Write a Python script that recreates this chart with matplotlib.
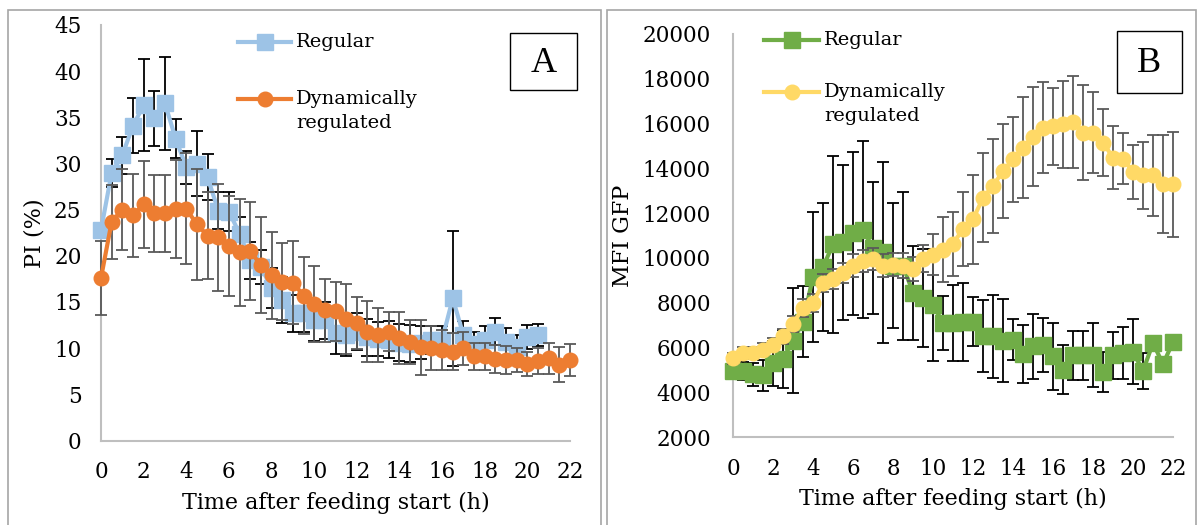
import matplotlib.pyplot as plt
from matplotlib.lines import Line2D
from matplotlib.patches import Rectangle

plt.rcParams['font.family'] = 'DejaVu Serif'

# time points (h)
hours = [0, 0.5, 1, 1.5, 2, 2.5, 3, 3.5, 4, 4.5, 5, 5.5, 6, 6.5, 7, 7.5,
         8, 8.5, 9, 9.5, 10, 10.5, 11, 11.5, 12, 12.5, 13, 13.5, 14, 14.5,
         15, 15.5, 16, 16.5, 17, 17.5, 18, 18.5, 19, 19.5, 20, 20.5, 21,
         21.5, 22]
hours_a_reg = hours[:42]

# Panel A - PI (%)
pi_regular = [22.8, 29.0, 30.9, 34.1, 36.3, 34.9, 36.5, 32.7, 29.6, 30.0,
              28.5, 24.9, 24.8, 22.4, 19.5, 18.8, 16.5, 15.2, 13.8, 13.8,
              13.0, 13.0, 11.6, 11.4, 11.8, 11.2, 11.0, 10.9, 10.6, 10.5,
              10.6, 10.9, 10.9, 15.4, 11.4, 10.5, 10.9, 11.8, 10.7, 10.1,
              11.2, 11.4]
pi_regular_err = [0.5, 1.5, 2.0, 3.0, 5.0, 3.0, 5.0, 2.1, 1.8, 3.5,
                  2.5, 2.0, 2.1, 1.8, 2.0, 1.8, 2.2, 2.5, 2.0, 2.0,
                  2.2, 2.0, 2.2, 2.3, 2.0, 2.0, 1.8, 2.0, 2.0, 2.0,
                  1.8, 1.5, 1.5, 7.3, 1.5, 1.2, 1.5, 1.5, 1.5, 1.3,
                  1.3, 1.2]
pi_dynamic = [17.6, 23.7, 25.0, 24.4, 25.6, 24.6, 24.6, 25.1, 25.1, 23.4,
              22.2, 22.0, 21.1, 20.4, 20.5, 19.0, 17.9, 17.2, 17.1, 15.7,
              14.8, 14.1, 14.0, 13.2, 12.7, 11.8, 11.4, 11.8, 11.1, 10.7,
              10.1, 10.0, 9.8, 9.6, 10.0, 9.1, 9.1, 8.8, 8.7, 8.7,
              8.3, 8.6, 8.9, 8.2, 8.7]
pi_dynamic_err = [4.0, 4.0, 4.4, 4.5, 4.7, 4.2, 4.2, 5.3, 6.0, 6.0,
                  4.7, 5.8, 5.4, 5.8, 5.3, 5.2, 4.7, 4.2, 4.5, 4.2,
                  4.1, 3.4, 3.2, 3.8, 2.8, 3.3, 2.9, 2.1, 2.8, 2.4,
                  3.0, 2.4, 2.2, 2.0, 1.8, 1.5, 1.5, 1.5, 1.5, 1.3,
                  1.3, 1.4, 1.7, 1.9, 1.7]

# Panel B - MFI GFP
mfi_regular = [4950, 4950, 4800, 4750, 5300, 5500, 6300, 7150, 9150, 9600,
               10600, 10700, 11100, 11250, 10450, 10250, 9650, 9650, 8450, 8200,
               7900, 7100, 7100, 7150, 7150, 6500, 6500, 6300, 6350, 5700,
               6050, 6100, 5600, 5000, 5650, 5650, 5650, 4900, 5650, 5750,
               5800, 4950, 6200, 5250, 6250]
mfi_regular_err = [200, 400, 500, 700, 1000, 1300, 2350, 1580, 2900, 2850,
                   3950, 3470, 3650, 3950, 2950, 4050, 2800, 3300, 2100, 2200,
                   2500, 1200, 1700, 1750, 1100, 1600, 1850, 1850, 900, 1300,
                   1450, 1200, 1500, 1100, 1100, 1100, 1430, 900, 1050, 1150,
                   1450, 820, 300, 300, 300]
mfi_dynamic = [5520, 5750, 5770, 5900, 6120, 6490, 7060, 7760, 7990, 8880,
               9060, 9330, 9660, 9850, 9960, 9660, 9700, 9660, 9510, 9960,
               10150, 10370, 10620, 11300, 11720, 12690, 13210, 13880, 14400, 14930,
               15420, 15820, 15870, 15970, 16080, 15600, 15600, 15150, 14480, 14430,
               13840, 13690, 13690, 13290, 13290]
mfi_dynamic_err = [250, 250, 250, 300, 300, 350, 350, 400, 400, 400,
                   450, 450, 500, 500, 500, 500, 500, 550, 550, 600,
                   900, 1450, 1450, 1650, 2000, 2000, 2100, 2100, 1900, 2250,
                   2200, 2050, 1700, 1950, 2050, 2100, 1800, 1500, 1400, 1150,
                   1200, 1500, 1800, 2200, 2350]

W, H = 1198, 525
fig = plt.figure(figsize=(W / 100, H / 100), dpi=100)


def fx(x):
    return x / W


def fy(y):
    return 1 - y / H


def style_axes(ax):
    for side in ['top', 'right']:
        ax.spines[side].set_visible(False)
    for side in ['left', 'bottom']:
        ax.spines[side].set_color('#BFBFBF')
        ax.spines[side].set_linewidth(1.5)
    ax.tick_params(length=0, labelsize=15.5)
    ax.set_xlim(0, 22)
    ax.set_xticks(range(0, 23, 2))


def draw_series(ax, x, y, err, color, marker, ms, ecolor, z):
    ax.errorbar(x, y, yerr=err, fmt='none', ecolor=ecolor, elinewidth=1.3,
                capsize=4.5, capthick=1.3, zorder=z, clip_on=False)
    ax.plot(x, y, color=color, lw=3, marker=marker, ms=ms, mec=color,
            mfc=color, zorder=z + 1, clip_on=False)


def legend_entry(x0, x1, y, color, marker, ms, text, ty):
    fig.add_artist(Line2D([fx(x0), fx(x1)], [fy(y), fy(y)], color=color, lw=3))
    fig.add_artist(Line2D([fx((x0 + x1) / 2)], [fy(y)], color=color,
                          marker=marker, ms=ms, mec=color, mfc=color))
    fig.text(fx(x1 + 5), fy(ty), text, fontsize=14, va='top', ha='left',
             linespacing=1.4)


def panel_box(x0, y0, x1, y1, color, lw):
    fig.add_artist(Rectangle((fx(x0), fy(y1)), fx(x1) - fx(x0), fy(y0) - fy(y1),
                             transform=fig.transFigure, fill=False,
                             edgecolor=color, lw=lw))


# outer panel frames
panel_box(8, 10, 601, 530, '#A6A6A6', 1.2)
panel_box(607, 10, 1196, 530, '#A6A6A6', 1.2)

# ---- Panel A ----
ax1 = fig.add_axes([fx(101), fy(440.5), fx(570) - fx(101), fy(25) - fy(440.5)])
style_axes(ax1)
ax1.set_ylim(0, 45)
ax1.set_yticks(range(0, 46, 5))
ax1.tick_params(axis='y', pad=14)
ax1.tick_params(axis='x', pad=15)
draw_series(ax1, hours_a_reg, pi_regular, pi_regular_err, '#9DC3E6', 's', 11, '#000000', 2)
draw_series(ax1, hours, pi_dynamic, pi_dynamic_err, '#ED7D31', 'o', 10.5, '#595959', 4)
ax1.set_ylabel('PI (%)', fontsize=16, labelpad=6)
ax1.set_xlabel('Time after feeding start (h)', fontsize=16, labelpad=6)

legend_entry(238, 291, 42, '#9DC3E6', 's', 11, 'Regular', 33)
legend_entry(238, 291, 99, '#ED7D31', 'o', 10.5, 'Dynamically\nregulated', 90)

panel_box(510, 33, 577, 90, 'black', 1.0)
fig.text(fx(543.5), fy(63), 'A', fontsize=26, family='Liberation Serif',
         ha='center', va='center')

# ---- Panel B ----
ax2 = fig.add_axes([fx(733), fy(437), fx(1173) - fx(733), fy(34) - fy(437)])
style_axes(ax2)
ax2.set_ylim(2000, 20000)
ax2.set_yticks(range(2000, 20001, 2000))
ax2.tick_params(axis='y', pad=16)
ax2.tick_params(axis='x', pad=15)
draw_series(ax2, hours, mfi_regular, mfi_regular_err, '#70AD47', 's', 11, '#000000', 2)
draw_series(ax2, hours, mfi_dynamic, mfi_dynamic_err, '#FFD966', 'o', 10.5, '#595959', 4)
ax2.set_ylabel('MFI GFP', fontsize=16, labelpad=6)
ax2.set_xlabel('Time after feeding start (h)', fontsize=16, labelpad=6)

legend_entry(764, 819, 40, '#70AD47', 's', 11, 'Regular', 31)
legend_entry(764, 819, 92, '#FFD966', 'o', 10.5, 'Dynamically\nregulated', 83)

panel_box(1117, 31, 1182, 93, 'black', 1.0)
fig.text(fx(1149.5), fy(63), 'B', fontsize=26, family='Liberation Serif',
         ha='center', va='center')

fig.savefig('out.png', dpi=100)
